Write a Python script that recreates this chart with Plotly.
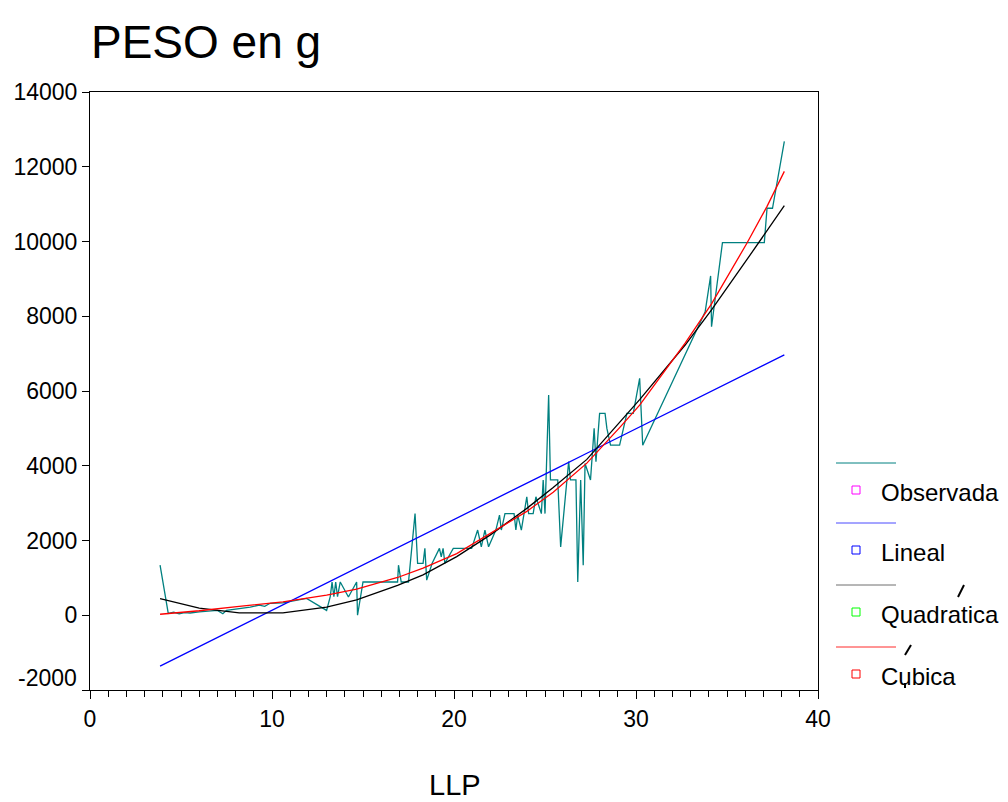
import plotly.graph_objects as go

# Observed PESO (g) against LLP, in LLP order
llp_obs = [3.85, 4.3, 4.6, 4.9, 5.2, 5.5, 6.0, 7.0, 7.3, 7.5, 8.8, 9.3, 9.6, 9.9,
           10.6, 11.9, 13.0, 13.2, 13.3, 13.4, 13.5, 13.6, 13.75, 14.2, 14.65, 14.7,
           15.0, 16.5, 16.9, 16.95, 17.1, 17.5, 17.86, 18.0, 18.3, 18.4, 18.5, 18.8,
           19.2, 19.3, 19.4, 19.5, 19.96, 20.97, 21.3, 21.5, 21.7, 21.9, 22.3, 22.5,
           22.6, 22.8, 23.3, 23.4, 23.5, 23.7, 24.0, 24.1, 24.35, 24.5, 24.8, 24.9,
           25.0, 25.2, 25.3, 25.7, 25.86, 26.3, 26.4, 26.7, 26.8, 26.96, 27.1, 27.2,
           27.5, 27.7, 27.8, 28.0, 28.3, 28.4, 28.6, 29.1, 29.5, 29.85, 30.0, 30.2,
           30.37, 33.8, 34.1, 34.15, 34.75, 37.05, 37.2, 37.5, 38.15]
peso_obs = [1340, 50, 80, 40, 70, 60, 90, 130, 40, 130, 220, 270, 240, 320,
            330, 450, 130, 500, 890, 500, 890, 500, 890, 490, 890, 0,
            890, 890, 890, 1340, 890, 890, 2720, 1390, 1390, 1790, 940, 1390,
            1790, 1560, 1790, 1390, 1790, 1790, 2280, 1830, 2280, 1830, 2280, 2680,
            2280, 2720, 2720, 2280, 2680, 2280, 3170, 2720, 2720, 3170, 2720, 3620,
            2720, 5890, 3620, 3620, 1830, 4110, 3620, 3620, 890, 3620, 1340, 4060,
            3620, 5000, 4110, 5400, 5400, 5000, 4550, 4550, 5400, 5400, 5850, 6340,
            4550, 8120, 9080, 7720, 9970, 9970, 10890, 10890, 12680]

# Fitted values (linear, quadratic, cubic) along LLP
llp_fit = [3.85, 6.0, 8.2, 10.6, 13.0, 14.65, 16.9, 18.3, 20.15, 22.0, 24.0,
           25.45, 27.3, 29.1, 30.2, 32.7, 34.15, 36.1, 37.2, 38.15]
fit_lineal = [-1360, -840, -305, 280, 860, 1260, 1810, 2150, 2600, 3045, 3530,
              3885, 4335, 4770, 5040, 5650, 6000, 6475, 6740, 6965]
fit_quad = [447, 190, 63, 65, 220, 410, 800, 1080, 1570, 2150, 2860,
            3420, 4170, 5180, 5770, 7230, 8170, 9520, 10300, 10957]
fit_cubic = [27, 120, 240, 357, 540, 700, 1010, 1260, 1650, 2190, 2780,
             3290, 4070, 5020, 5620, 7280, 8330, 9960, 10940, 11876]

legend_names = ["Observada", "Lineal", "Quadratica", "Cubica"]
line_colors = ["#008080", "#0000ff", "#000000", "#ff0000"]
legend_line_colors = ["#008080", "#4a4aff", "#6e6e6e", "#ff2a2a"]
legend_box_colors = ["#ff00ff", "#0000ff", "#00ff00", "#ff0000"]

y_ticks = list(range(-2000, 14001, 2000))

FONT = "Liberation Sans, Arial, sans-serif"

fig = go.Figure()
series = [(llp_obs, peso_obs), (llp_fit, fit_lineal), (llp_fit, fit_quad), (llp_fit, fit_cubic)]
for (xs, ys), name, col in zip(series, legend_names, line_colors):
    fig.add_trace(go.Scatter(x=xs, y=ys, mode="lines", name=name,
                             line=dict(color=col, width=1.3), showlegend=False))

# Plot area in pixels: x 90..818, y 92..690
W, H = 1008, 802
L, R, T, B = 90, 818, 92, 690


def px(x):
    return (x - L) / (R - L)


def py(y):
    return (B - y) / (B - T)


shapes = []
annotations = []
legend_rows = [463, 523, 585, 647]
for i, (row, name) in enumerate(zip(legend_rows, legend_names)):
    shapes.append(dict(type="line", xref="paper", yref="paper",
                       x0=px(836), x1=px(896), y0=py(row), y1=py(row),
                       line=dict(color=legend_line_colors[i], width=1)))
    by = row + 27
    shapes.append(dict(type="rect", xref="paper", yref="paper",
                       x0=px(852), x1=px(860), y0=py(by - 4), y1=py(by + 4),
                       line=dict(color=legend_box_colors[i], width=1),
                       fillcolor="white"))
    annotations.append(dict(text=name, xref="paper", yref="paper",
                            x=px(879), y=py(by + 2), xanchor="left", yanchor="middle",
                            showarrow=False, font=dict(family=FONT, size=24, color="black")))

# small stray strokes in the key
for (x0, y0, x1, y1) in [(958, 597, 964, 585), (905, 655, 911, 645), (905, 683, 905, 688)]:
    shapes.append(dict(type="line", xref="paper", yref="paper",
                       x0=px(x0), x1=px(x1), y0=py(y0), y1=py(y1),
                       line=dict(color="black", width=2)))

# titles
annotations.append(dict(text="PESO en g", xref="paper", yref="paper",
                        x=px(89), y=py(42), xanchor="left", yanchor="middle",
                        showarrow=False, font=dict(family=FONT, size=46, color="black")))
annotations.append(dict(text="LLP", xref="paper", yref="paper",
                        x=px(455), y=py(785), xanchor="center", yanchor="middle",
                        showarrow=False, font=dict(family=FONT, size=29, color="black")))
# bottom y label sits slightly above its tick
annotations.append(dict(text="-2000", xref="paper", yref="y",
                        x=px(79), y=-2000, yshift=12, xanchor="right", yanchor="middle",
                        showarrow=False, font=dict(family=FONT, size=23, color="black")))

fig.update_layout(
    width=W, height=H,
    margin=dict(l=L, r=W - R, t=T, b=H - B, pad=0),
    paper_bgcolor="white", plot_bgcolor="white",
    font=dict(family=FONT, color="black"),
    shapes=shapes, annotations=annotations,
    showlegend=False,
)
fig.update_xaxes(range=[0, 40], tickmode="linear", tick0=0, dtick=10,
                 showgrid=False, zeroline=False, showline=True, linecolor="black",
                 linewidth=1, mirror=True, ticks="outside", ticklen=8, tickcolor="black",
                 tickfont=dict(family=FONT, size=23),
                 minor=dict(dtick=1, ticks="outside", ticklen=6, tickcolor="black", showgrid=False))
fig.update_yaxes(range=[-2000, 14000], tickmode="array", tickvals=y_ticks,
                 ticktext=["" if v == -2000 else str(v) for v in y_ticks],
                 showgrid=False, zeroline=False, showline=True, linecolor="black",
                 linewidth=1, mirror=True, ticks="outside", ticklen=7, tickcolor="black",
                 tickfont=dict(family=FONT, size=23))

fig.write_html("out.html")
